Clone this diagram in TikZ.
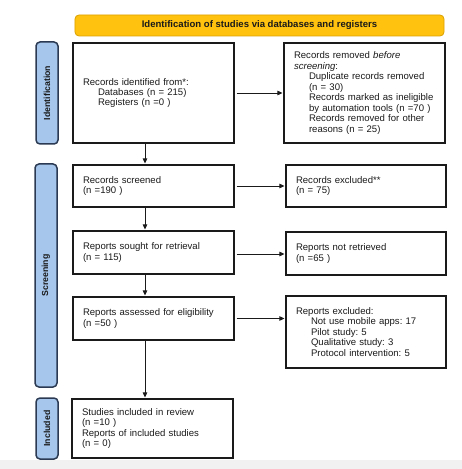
\documentclass[tikz,border=0pt]{standalone}
\usepackage{fontspec}
\setmainfont{Liberation Sans}
\usetikzlibrary{arrows.meta}
\definecolor{bannerfill}{HTML}{FFC20E}
\definecolor{bannerline}{HTML}{D9A000}
\definecolor{sidefill}{HTML}{A6C6EC}
\definecolor{sideline}{HTML}{2B3A52}
\definecolor{bandgray}{HTML}{F1F1F1}
\definecolor{ink}{HTML}{1A1A1A}
\begin{document}
\frenchspacing
\begin{tikzpicture}[x=1bp,y=-1bp,
  every node/.style={font=\fontsize{9.6}{10.5}\selectfont, text=ink},
  box/.style={draw=ink, line width=1.1bp, fill=white, inner xsep=10bp, inner ysep=0bp, align=left},
  side/.style={draw=sideline, line width=1.5bp, fill=sidefill, rounded corners=4bp, rotate=90,
    minimum height=22bp, inner sep=0bp, font=\fontsize{8.8}{10}\selectfont\bfseries},
  banner/.style={draw=bannerline, line width=0.8bp, fill=bannerfill, rounded corners=4bp,
    minimum width=369bp, minimum height=21bp, inner sep=0bp, font=\fontsize{9.6}{10.5}\selectfont\bfseries},
  arr/.style={draw=ink, line width=0.8bp, -{Triangle[length=5bp,width=4.5bp]}, shorten <=2bp, shorten >=1bp}]
\useasboundingbox (0,0) rectangle (462,469);
\fill[bandgray] (0,460) rectangle (462,469);
\newcommand{\ind}{\hspace*{15bp}}

\node[banner] (ban) at (259.5,25.5) {Identification of studies via databases and registers};

\node[side, minimum width=102bp] (sid) at (47,93) {Identification};
\node[side, minimum width=223bp] (ssc) at (46,275.5) {Screening};
\node[side, minimum width=61bp] (sin) at (47,428.5) {Included};

\node[box, minimum width=161bp, minimum height=100bp, text width=141bp] (idf) at (153.5,93)
  {Records identified from*:\\ \ind Databases (n = 215)\\ \ind Registers (n =0 )};
\node[box, minimum width=161bp, minimum height=100bp, text width=141bp] (rem) at (364.5,93)
  {Records removed \textit{before}\\ \textit{screening}:\\ \ind Duplicate records removed\\ \ind (n = 30)\\
   \ind Records marked as ineligible\\ \ind by automation tools (n =70 )\\ \ind Records removed for other\\ \ind reasons (n = 25)};

\node[box, minimum width=161bp, minimum height=42bp, text width=141bp] (scr) at (153.5,186)
  {Records screened\\ (n =190 )};
\node[box, minimum width=160bp, minimum height=42bp, text width=140bp] (exc) at (366,186)
  {Records excluded**\\ (n = 75)};

\node[box, minimum width=161bp, minimum height=43bp, text width=141bp] (sou) at (153.5,252.5)
  {Reports sought for retrieval\\ (n = 115)};
\node[box, minimum width=160bp, minimum height=43bp, text width=140bp] (nrt) at (366,253.5)
  {Reports not retrieved\\ (n =65 )};

\node[box, minimum width=161bp, minimum height=43bp, text width=141bp] (ass) at (153.5,318.5)
  {Reports assessed for eligibility\\ (n =50 )};
\node[box, minimum width=160bp, minimum height=72bp, text width=140bp] (rex) at (366,332)
  {Reports excluded:\\ \ind Not use mobile apps: 17\\ \ind Pilot study: 5\\ \ind Qualitative study: 3\\ \ind Protocol intervention: 5};

\node[box, minimum width=161bp, minimum height=59bp, text width=141bp] (inc) at (152.5,428.5)
  {Studies included in review\\ (n =10 )\\ Reports of included studies\\ (n = 0)};

\coordinate (vx) at (145,0);
\draw[arr, shorten <=0bp] (idf.south -| vx) -- (scr.north -| vx);
\draw[arr, shorten <=0bp] (scr.south -| vx) -- (sou.north -| vx);
\draw[arr, shorten <=0bp] (sou.south -| vx) -- (ass.north -| vx);
\draw[arr, shorten <=0bp] (ass.south -| vx) -- (inc.north -| vx);

\draw[arr] (idf.east) -- (rem.west);
\draw[arr] (scr.east) -- (exc.west);
\coordinate (y3) at (0,254);
\draw[arr] (sou.east |- y3) -- (nrt.west |- y3);
\draw[arr] (ass.east) -- (rex.west |- ass.east);
\end{tikzpicture}
\end{document}
